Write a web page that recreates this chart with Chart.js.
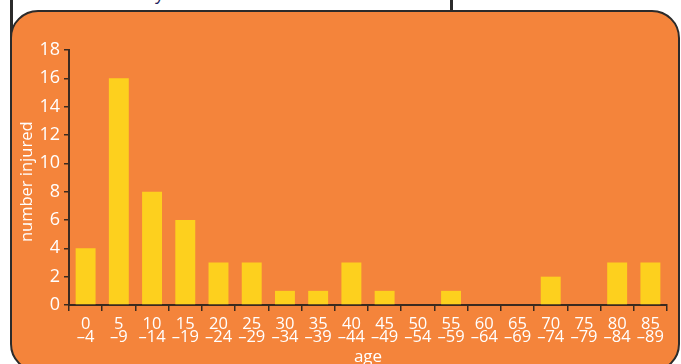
<!DOCTYPE html>
<html>
<head>
<meta charset="utf-8">
<script src="https://cdn.jsdelivr.net/npm/chart.js@4.4.0/dist/chart.umd.min.js"></script>
<style>
  html, body { margin: 0; padding: 0; background: #ffffff; width: 681px; height: 364px; overflow: hidden; position: relative; }
  #outerLine { position: absolute; left: 10px; top: 0; width: 2.5px; height: 40px; background: #2b2b2b; }
  #midLine { position: absolute; left: 450px; top: 0; width: 2.5px; height: 14px; background: #2b2b2b; }
  #frame { position: absolute; left: 10px; top: 10px; width: 666px; height: 358px; border: 2.5px solid #2b2b2b; border-radius: 28px; background: #f4843b; }
  #topText { position: absolute; left: 155px; top: -17px; font-family: "Open Sans", sans-serif; font-size: 18px; color: #1f1f5e; line-height: 20px; }
  #c { position: absolute; left: 0; top: 0; }
</style>
</head>
<body>
<div id="outerLine"></div>
<div id="midLine"></div>
<span id="topText">y</span>
<div id="frame"></div>
<canvas id="c" width="681" height="364"></canvas>
<script>
const categories = [["0","–4"],["5","–9"],["10","–14"],["15","–19"],["20","–24"],["25","–29"],["30","–34"],["35","–39"],["40","–44"],["45","–49"],["50","–54"],["55","–59"],["60","–64"],["65","–69"],["70","–74"],["75","–79"],["80","–84"],["85","–89"]];
const injured = [4,16,8,6,3,3,1,1,3,1,0,1,0,0,2,0,3,3];
const yTicks = [0,2,4,6,8,10,12,14,16,18];

const axisColor = '#3a2a20';
const white = '#ffffff';
const fontFam = '"Open Sans", sans-serif';

new Chart(document.getElementById('c'), {
  type: 'bar',
  data: {
    labels: categories,
    datasets: [{
      data: injured,
      backgroundColor: '#fdd01e',
      borderWidth: 0,
      categoryPercentage: 1.0,
      barPercentage: 0.6
    }]
  },
  options: {
    responsive: false,
    animation: false,
    devicePixelRatio: 1,
    layout: { padding: { left: 0, right: 14, top: 50, bottom: 0 } },
    plugins: { legend: { display: false }, tooltip: { enabled: false } },
    scales: {
      x: {
        offset: true,
        grid: { offset: true, drawOnChartArea: false, drawTicks: true, tickLength: 6, color: axisColor, lineWidth: 1.5 },
        border: { display: true, color: axisColor, width: 2 },
        ticks: { color: white, font: { family: fontFam, size: 16.5, weight: '500', lineHeight: 0.76 }, padding: 7, maxRotation: 0, autoSkip: false },
        title: { display: true, text: 'age', color: white, font: { family: fontFam, size: 17, weight: '500' }, padding: { top: -3, bottom: -3 } },
        afterFit: (s) => { s.height = 59; }
      },
      y: {
        min: 0, max: 18,
        afterBuildTicks: (s) => { s.ticks = yTicks.map(v => ({ value: v })); },
        grid: { drawOnChartArea: false, drawTicks: true, tickLength: 5, color: axisColor, lineWidth: 1.5 },
        border: { display: true, color: axisColor, width: 2 },
        ticks: { color: white, font: { family: fontFam, size: 18, weight: '500' }, padding: 4 },
        title: { display: true, text: 'number injured  ', color: white, font: { family: fontFam, size: 16.5, weight: '500' }, padding: { top: 17, bottom: 0 } },
        afterFit: (s) => { s.width = 69; }
      }
    }
  }
});
</script>
</body>
</html>
